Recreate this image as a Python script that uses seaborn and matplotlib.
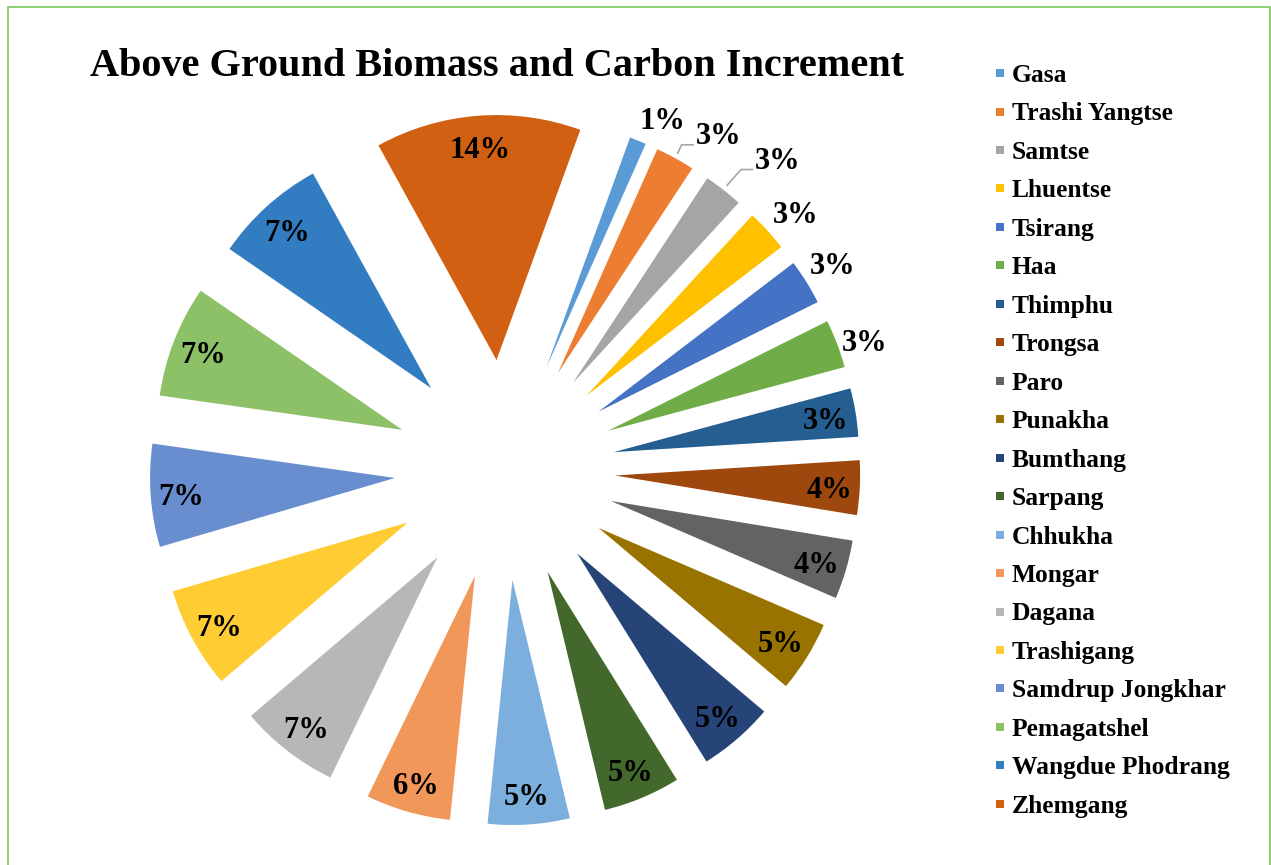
import numpy as np
import matplotlib
matplotlib.use("Agg")
import matplotlib.pyplot as plt
import seaborn as sns
from matplotlib.lines import Line2D
from matplotlib.patches import Rectangle

# ---------------- data ----------------
districts = ["Gasa", "Trashi Yangtse", "Samtse", "Lhuentse", "Tsirang", "Haa",
             "Thimphu", "Trongsa", "Paro", "Punakha", "Bumthang", "Sarpang",
             "Chhukha", "Mongar", "Dagana", "Trashigang", "Samdrup Jongkhar",
             "Pemagatshel", "Wangdue Phodrang", "Zhemgang"]
values = [1.1, 2.6, 2.6, 2.8, 3.0, 3.2,
          3.2, 3.6, 3.9, 4.7, 5.0, 5.1,
          5.4, 5.6, 6.6, 6.7, 6.8,
          7.4, 7.4, 13.6]
colors = ["#5B9BD5", "#ED7D31", "#A5A5A5", "#FFC000", "#4472C4", "#70AD47",
          "#255E91", "#9E480E", "#636363", "#997300", "#264478", "#43682B",
          "#7CAFDD", "#F1975A", "#B7B7B7", "#FFCD33", "#698ED0",
          "#8CC168", "#327DC2", "#D26012"]
title = "Above Ground Biomass and Carbon Increment"

# ---------------- style ----------------
sns.set_theme(style="white")
plt.rcParams["font.family"] = ["Liberation Serif", "DejaVu Serif"]
plt.rcParams["text.color"] = "black"

W, H = 1271, 865
fig = plt.figure(figsize=(W / 100, H / 100), dpi=100)
ax = fig.add_axes([0, 0, 1, 1])

R_px = 245.0
cx, cy = 505.0, 470.0
explode = [0.45] * len(values)

wedges, _ = ax.pie(values, colors=colors, startangle=70, counterclock=False,
                   explode=explode, radius=1.0,
                   wedgeprops=dict(linewidth=0))
ax.set_xlim(-cx / R_px, (W - cx) / R_px)
ax.set_ylim(-(H - cy) / R_px, cy / R_px)
ax.set_aspect("auto")
ax.axis("off")

total = sum(values)
labels = [f"{int(round(v / total * 100))}%" for v in values]

# outside-label settings for the small slices: (radial dist, angle shift deg, leader)
outside = {0: (1.125, -2.9, False), 1: (1.18, -5.1, True), 2: (1.244, -4.3, True),
           3: (1.138, -0.9, False), 4: (1.134, 0.5, False), 5: (1.113, -1.3, False)}

dy = -4 / R_px   # optical centring of the digits


def put_label(x, y, s):
    ax.text(x, y + dy, s, ha="center", va="center",
            fontsize=22, fontweight="bold", color="black")


for i, w in enumerate(wedges):
    mid = np.deg2rad((w.theta1 + w.theta2) / 2.0)
    c = np.array(w.center)
    if i in outside:
        rd, shift, leader = outside[i]
        a = mid + np.deg2rad(shift)
        L = c + rd * np.array([np.cos(a), np.sin(a)])
        put_label(L[0], L[1], labels[i])
        if leader:
            P0 = c + 1.02 * np.array([np.cos(mid), np.sin(mid)])
            left = L[0] - 0.1
            yl = L[1] + dy - 0.033
            ax.plot([P0[0], left - 0.05, left], [P0[1], yl, yl],
                    color="#A5A5A5", lw=1.2, solid_capstyle="butt")
    else:
        L = c + 0.875 * np.array([np.cos(mid), np.sin(mid)])
        put_label(L[0], L[1], labels[i])

# title
fig.text(497 / W, 1 - 67 / H, title, ha="center", va="center",
         fontsize=29, fontweight="bold", color="black")

# legend
handles = [Line2D([], [], marker="s", linestyle="", markersize=6,
                  markerfacecolor=col, markeredgewidth=0) for col in colors]
fig.legend(handles, districts, loc="upper left",
           bbox_to_anchor=(992.3 / W, 1 - 64 / H), frameon=False,
           prop=dict(size=18.4, weight="bold"), labelcolor="black",
           handlelength=0.6, handletextpad=0.17, labelspacing=0.605,
           borderpad=0, borderaxespad=0)

# chart border
fig.add_artist(Rectangle((8 / W, -0.01), (1270 - 8) / W, (H - 7) / H + 0.01,
                         transform=fig.transFigure, fill=False,
                         edgecolor="#7CC85A", lw=1.2))

fig.savefig("out.png", dpi=100)
